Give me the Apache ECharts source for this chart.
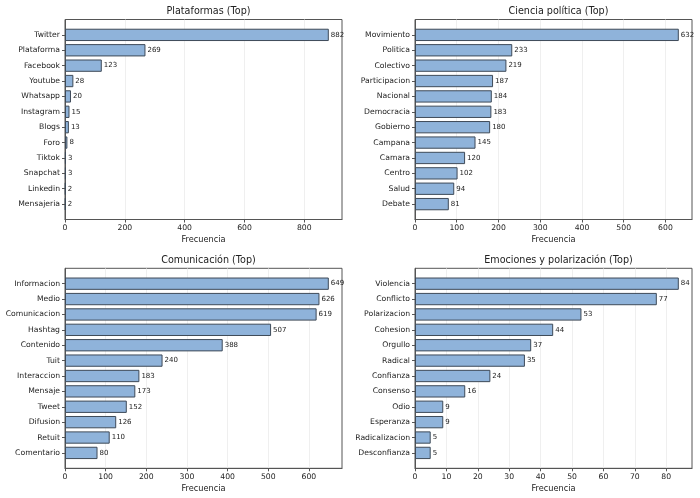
<!DOCTYPE html>
<html><head><meta charset="utf-8">
<script src="https://cdn.jsdelivr.net/npm/echarts@6/dist/echarts.min.js"></script>
<style>html,body{margin:0;padding:0;background:#fff}#c{width:700px;height:498px}</style>
</head><body><div id="c"></div>
<script>
const titles = ['Plataformas (Top)', 'Ciencia política (Top)', 'Comunicación (Top)', 'Emociones y polarización (Top)'];
const cats1 = ['Twitter','Plataforma','Facebook','Youtube','Whatsapp','Instagram','Blogs','Foro','Tiktok','Snapchat','Linkedin','Mensajeria'];
const vals1 = [882,269,123,28,20,15,13,8,3,3,2,2];
const cats2 = ['Movimiento','Politica','Colectivo','Participacion','Nacional','Democracia','Gobierno','Campana','Camara','Centro','Salud','Debate'];
const vals2 = [632,233,219,187,184,183,180,145,120,102,94,81];
const cats3 = ['Informacion','Medio','Comunicacion','Hashtag','Contenido','Tuit','Interaccion','Mensaje','Tweet','Difusion','Retuit','Comentario'];
const vals3 = [649,626,619,507,388,240,183,173,152,126,110,80];
const cats4 = ['Violencia','Conflicto','Polarizacion','Cohesion','Orgullo','Radical','Confianza','Consenso','Odio','Esperanza','Radicalizacion','Desconfianza'];
const vals4 = [84,77,53,44,37,35,24,16,9,9,5,5];
const xTicks1 = [0,200,400,600,800];
const xTicks2 = [0,100,200,300,400,500,600];
const xTicks3 = [0,100,200,300,400,500,600];
const xTicks4 = [0,10,20,30,40,50,60,70,80];
const xLabel = 'Frecuencia';

const panels = [
  {cats: cats1, vals: vals1, ticks: xTicks1},
  {cats: cats2, vals: vals2, ticks: xTicks2},
  {cats: cats3, vals: vals3, ticks: xTicks3},
  {cats: cats4, vals: vals4, ticks: xTicks4}
];
const gridPos = [
  {left: 65, top: 19.5},
  {left: 415, top: 19.5},
  {left: 65, top: 268.3},
  {left: 415, top: 268.3}
];
const GW = 277, GH = 200;
const FONT = 'DejaVu Sans';
const TXT = '#222';
const chart = echarts.init(document.getElementById('c'), null, {renderer: 'canvas'});
const option = {
  backgroundColor: '#fff',
  animation: false,
  title: [], grid: [], xAxis: [], yAxis: [], series: []
};
panels.forEach((p, i) => {
  const g = gridPos[i];
  const maxV = Math.max(...p.vals) * 1.05;
  option.title.push({
    text: titles[i], left: g.left + GW / 2, top: g.top - 18, textAlign: 'center',
    textStyle: {fontFamily: FONT, fontSize: 9.6, fontWeight: 'normal', color: TXT}
  });
  option.grid.push({
    left: g.left, top: g.top, width: GW, height: GH, containLabel: false,
    show: true, borderColor: '#555', borderWidth: 1, backgroundColor: '#fff'
  });
  option.xAxis.push({
    type: 'value', gridIndex: i, min: 0, max: maxV,
    name: xLabel, nameLocation: 'middle', nameGap: 16.5,
    nameTextStyle: {fontFamily: FONT, fontSize: 8.2, color: TXT},
    axisLine: {show: true, onZero: false, lineStyle: {color: '#555', width: 1}},
    axisTick: {show: true, length: 3, lineStyle: {color: '#555'}, customValues: p.ticks},
    axisLabel: {fontFamily: FONT, fontSize: 7.7, color: TXT, margin: 5, customValues: p.ticks},
    splitLine: {show: true, lineStyle: {color: '#ebebeb', width: 0.8}}
  });
  const padded = ['', ...p.cats, ' '];
  const n = padded.length;
  option.yAxis.push({
    type: 'category', gridIndex: i, data: padded, inverse: true, boundaryGap: false,
    axisLine: {show: true, lineStyle: {color: '#555', width: 1}},
    axisTick: {show: true, length: 3, lineStyle: {color: '#555'}, interval: (idx) => idx > 0 && idx < n - 1},
    axisLabel: {fontFamily: FONT, fontSize: 7.7, color: TXT, margin: 5, interval: 0},
    splitLine: {show: false}
  });
  option.series.push({
    type: 'bar', xAxisIndex: i, yAxisIndex: i, barWidth: '80%',
    data: ['-', ...p.vals, '-'],
    itemStyle: {color: '#8fb3da', borderColor: '#3e4a58', borderWidth: 1},
    label: {show: true, position: 'right', distance: 2, fontFamily: FONT, fontSize: 7, color: TXT},
    z: 3
  });
});
chart.setOption(option);
</script></body></html>
